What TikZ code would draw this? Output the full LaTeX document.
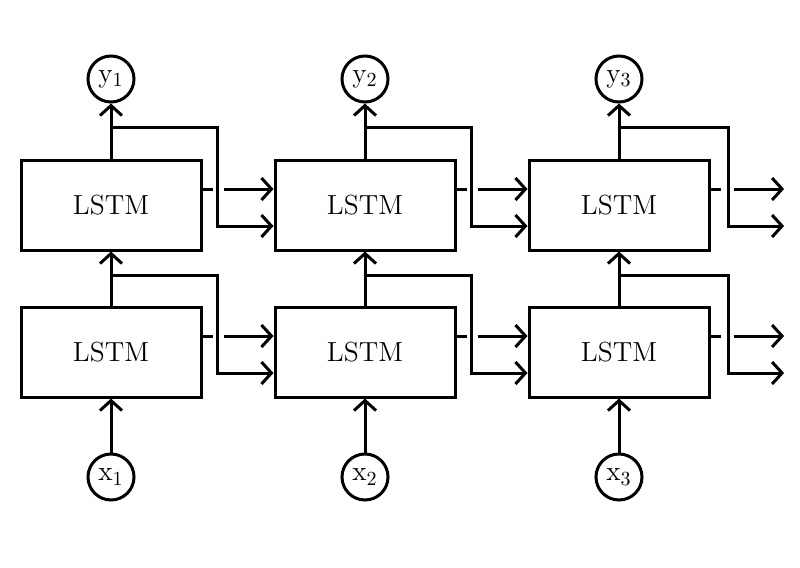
\documentclass[tikz,border=0pt]{standalone}
\usepackage{tikz}
\usetikzlibrary{arrows.meta}
\tikzset{
  cell/.style={draw, line width=1.5pt, minimum width=90pt, minimum height=45pt, inner sep=0pt, font=\fontsize{13.8}{16}\selectfont},
  io/.style={draw, circle, line width=1.5pt, minimum size=23pt, inner sep=0pt, font=\fontsize{13.8}{16}\selectfont},
  wire/.style={draw, line width=1.5pt},
  arr/.style={-{Straight Barb[length=5pt,width=11pt]}},
  stub/.style={inner sep=0pt, minimum size=0pt},
}
\begin{document}
\begin{tikzpicture}[x=0.5pt,y=-0.5pt]
  \def\up{8pt}
  \def\dn{-10.5pt}
  \useasboundingbox (0,0) rectangle (800,568);
  \foreach \i/\x in {1/111,2/365,3/619}{
    \node[cell] (T\i) at (\x,205) {LSTM};
    \node[cell] (B\i) at (\x,352) {LSTM};
    \node[io] (Y\i) at (\x,79) {y$_\i$};
    \node[io] (X\i) at (\x,477) {x$_\i$};
  }
  \node[stub] (T4) at ([xshift=37pt]T3.east) {};
  \node[stub] (B4) at ([xshift=37pt]B3.east) {};

  \foreach \i [evaluate=\i as \j using int(\i+1)] in {1,2,3}{
    \draw[wire,arr] (X\i) -- (B\i);
    \draw[wire,arr] (B\i) -- (T\i);
    \draw[wire,arr] (T\i) -- (Y\i);
    \foreach \r/\s in {T/15.5pt,B/15pt}{
      \draw[wire,arr] ([yshift=\s]\r\i.north) -| ([xshift=-28pt,yshift=\dn]\r\j.west) -- ([yshift=\dn]\r\j.west);
      \draw[wire] ([yshift=\up]\r\i.east) -- ++(5pt,0);
      \draw[wire,arr] ([xshift=-25pt,yshift=\up]\r\j.west) -- ([yshift=\up]\r\j.west);
    }
  }
\end{tikzpicture}
\end{document}
